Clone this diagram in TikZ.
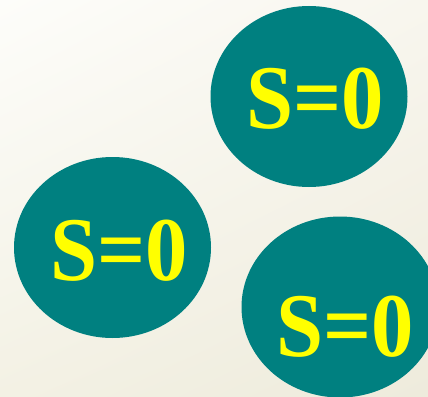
\documentclass[tikz,border=0pt]{standalone}
\usepackage{fontspec}
\setmainfont{Liberation Serif}
\usetikzlibrary{shapes.geometric,shadings}
\definecolor{tealc}{HTML}{008080}
\definecolor{yel}{HTML}{FFFF00}
\definecolor{bgA}{HTML}{FDFDFA}
\definecolor{bgB}{HTML}{F8F6EE}
\definecolor{bgC}{HTML}{F3F1E4}
\definecolor{bgD}{HTML}{EEEBDC}
\tikzset{
  blob/.style={ellipse, fill=tealc, draw=none, minimum width=197pt, minimum height=181pt, inner sep=0pt},
  lbl/.style={text=yel, font=\bfseries\fontsize{91}{91}\selectfont, inner sep=0pt}
}
\newcommand{\sz}{\scalebox{0.93}[1]{S=0}}
\begin{document}
\begin{tikzpicture}[x=1pt,y=-1pt]
\useasboundingbox (0,0) rectangle (428,396);
\clip (0,0) rectangle (428,396);
\shade[upper left=bgA, upper right=bgB, lower left=bgC, lower right=bgD] (0,0) rectangle (428,396);
\node[blob] (e1) at (309,96.5) {};
\node[blob] (e2) at (112.5,247.5) {};
\node[blob] (e3) at (340,307) {};
\node[lbl] (t1) at (315,99) {\sz};
\node[lbl] (t2) at (119.5,250.5) {\sz};
\node[lbl] (t3) at (345,327) {\sz};
\end{tikzpicture}
\end{document}
